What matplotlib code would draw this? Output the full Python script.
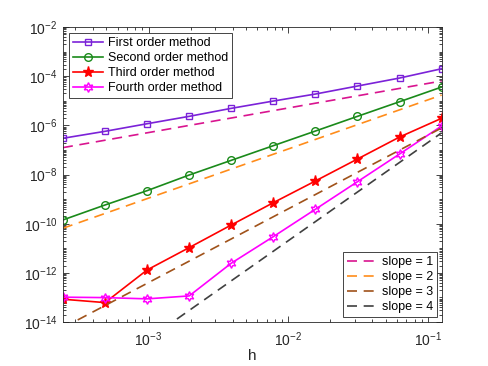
import numpy as np
import matplotlib
matplotlib.use("Agg")
import matplotlib.pyplot as plt
from matplotlib.ticker import FixedLocator, LogFormatterSciNotation, NullFormatter

plt.rcParams['font.family'] = ['Liberation Sans', 'DejaVu Sans']
plt.rcParams['mathtext.fontset'] = 'custom'
plt.rcParams['mathtext.rm'] = 'Liberation Sans'
plt.rcParams['mathtext.it'] = 'Liberation Sans:italic'

# step sizes h = 2^-12 ... 2^-3
h = np.array([2.0**-k for k in range(12, 2, -1)])

err_first = [3.0e-7, 5.75e-7, 1.17e-6, 2.34e-6, 4.95e-6, 9.8e-6, 1.89e-5, 4.0e-5, 8.45e-5, 2.02e-4]
err_second = [1.43e-10, 5.8e-10, 2.22e-9, 9.6e-9, 3.8e-8, 1.5e-7, 5.9e-7, 2.34e-6, 9.2e-6, 3.64e-5]
err_third = [8.5e-14, 6.2e-14, 1.32e-12, 1.07e-11, 8.9e-11, 7.2e-10, 5.5e-9, 4.3e-8, 3.37e-7, 1.95e-6]
err_fourth = [1.03e-13, 9.9e-14, 8.8e-14, 1.16e-13, 2.48e-12, 2.99e-11, 3.88e-10, 5.14e-9, 6.87e-8, 9.46e-7]

# reference slope lines: value at h = 2^-3
slopes = [1, 2, 3, 4]
slope_end = [6.4e-5, 1.72e-5, 7.9e-7, 5.0e-7]

method_labels = ['First order method', 'Second order method', 'Third order method', 'Fourth order method']
slope_labels = ['slope = 1', 'slope = 2', 'slope = 3', 'slope = 4']

fig = plt.figure(figsize=(4.88, 3.66), dpi=100)
ax = fig.add_axes([0.129, 0.120, 0.776, 0.806])

hexagram = (6, 1, 0)
c1, c2, c3, c4 = '#7B22D8', '#1A8A1A', '#FF0000', '#FF00FF'
l1, = ax.loglog(h, err_first, '-s', color=c1, mfc='none', ms=5, mew=1.0, lw=1.2)
l2, = ax.loglog(h, err_second, '-o', color=c2, mfc='none', ms=5.5, mew=1.0, lw=1.2)
l3, = ax.loglog(h, err_third, '-*', color=c3, mfc=c3, ms=8, mew=1.0, lw=1.2)
l4, = ax.loglog(h, err_fourth, '-', marker=hexagram, color=c4, mfc='none', ms=7, mew=1.0, lw=1.2)

slope_colors = ['#D9148F', '#FF8C1A', '#A0521A', '#404040']
slope_lines = []
for p, e, c in zip(slopes, slope_end, slope_colors):
    ref = e * (h / h[-1]) ** p
    ln, = ax.loglog(h, ref, '--', color=c, lw=1.2, dashes=(6, 4))
    slope_lines.append(ln)

ax.set_xlim(h[0], h[-1])
ax.set_ylim(1e-14, 1e-2)

ax.yaxis.set_major_locator(FixedLocator([10.0**k for k in range(-14, -1, 2)]))
yminor = [m * 10.0**k for k in range(-14, -2) for m in range(1, 10) if not (m == 1 and k % 2 == 0)]
ax.yaxis.set_minor_locator(FixedLocator(yminor))
ax.yaxis.set_major_formatter(LogFormatterSciNotation())
ax.yaxis.set_minor_formatter(NullFormatter())

ax.xaxis.set_major_locator(FixedLocator([1e-3, 1e-2, 1e-1]))
xminor = [m * 10.0**k for k in range(-4, 0) for m in range(2, 10)]
ax.xaxis.set_minor_locator(FixedLocator(xminor))
ax.xaxis.set_major_formatter(LogFormatterSciNotation())
ax.xaxis.set_minor_formatter(NullFormatter())

for side in ax.spines.values():
    side.set_color('#262626')
    side.set_linewidth(0.6)
ax.tick_params(which='both', direction='in', top=True, right=True, colors='#262626', labelsize=10)
ax.tick_params(which='major', length=4, width=0.6)
ax.tick_params(which='minor', length=2, width=0.6)
ax.tick_params(axis='x', pad=6)
ax.tick_params(axis='y', pad=4)

ax.set_xlabel('h', fontsize=11, color='#262626', labelpad=0)

leg1 = ax.legend([l1, l2, l3, l4], method_labels, loc='upper left', fontsize=9,
                 fancybox=False, framealpha=1, edgecolor='#262626', handlelength=2.4,
                 borderpad=0.3, labelspacing=0.25, handletextpad=0.4, borderaxespad=0.5)
leg1.get_frame().set_linewidth(0.6)
ax.add_artist(leg1)
leg2 = ax.legend(slope_lines, slope_labels, loc='lower right', fontsize=9,
                 fancybox=False, framealpha=1, edgecolor='#262626', handlelength=2.2,
                 borderpad=0.3, labelspacing=0.25, handletextpad=0.6, borderaxespad=0.4)
leg2.get_frame().set_linewidth(0.6)

fig.savefig('out.png', dpi=100)
